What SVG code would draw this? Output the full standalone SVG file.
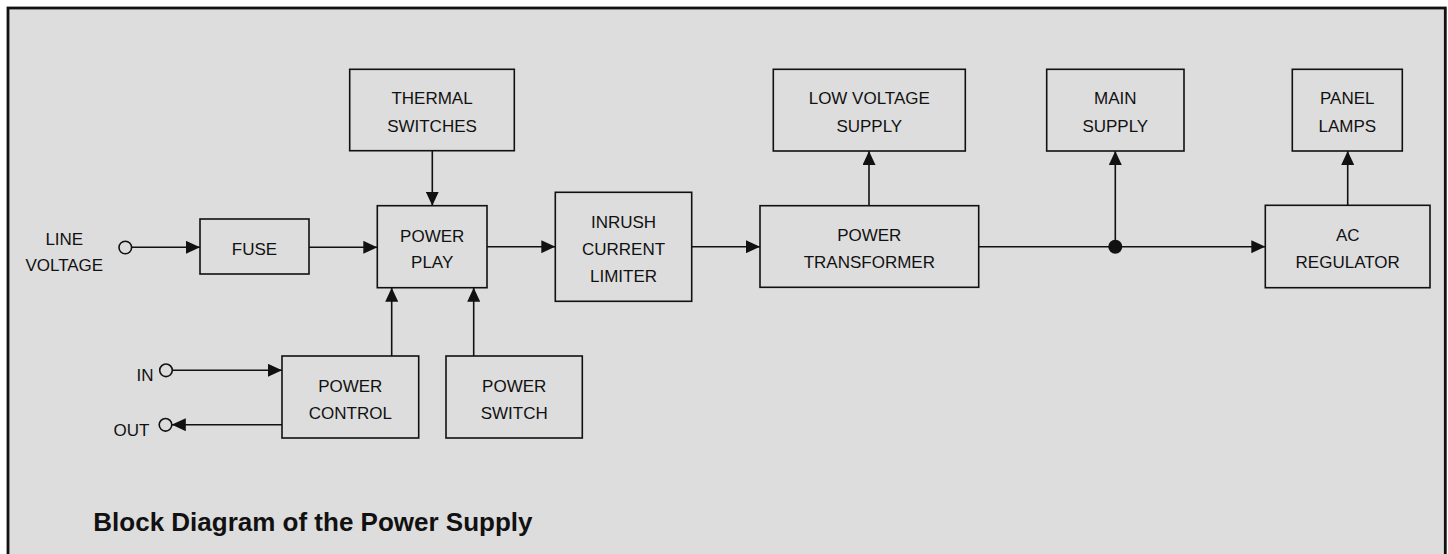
<svg xmlns="http://www.w3.org/2000/svg" width="1448" height="554" viewBox="0 0 1448 554">
  <defs>
    <style>
      .box { fill: none; stroke: #111; stroke-width: 1.6; }
      .wire { fill: none; stroke: #111; stroke-width: 1.6; }
      .term { fill: #dddddd; stroke: #111; stroke-width: 1.6; }
      .lbl { font-family: "Liberation Sans", Arial, Helvetica, sans-serif; font-size: 17px; fill: #111; text-anchor: middle; }
      .side { font-family: "Liberation Sans", Arial, Helvetica, sans-serif; font-size: 17px; fill: #111; text-anchor: end; }
      .title { font-family: "Liberation Sans", Arial, Helvetica, sans-serif; font-size: 26px; font-weight: bold; fill: #111; }
    </style>
    <marker id="arr" viewBox="0 0 14 13" refX="14" refY="6.5" markerWidth="14" markerHeight="13" markerUnits="userSpaceOnUse" orient="auto">
      <path d="M0,0 L14,6.5 L0,13 Z" fill="#111"/>
    </marker>
  </defs>

  <rect x="0" y="0" width="1448" height="554" fill="#ffffff"/>
  <rect id="frame" x="8" y="8" width="1437.3" height="560" fill="#dddddd" stroke="#111" stroke-width="2.8"/>

  <g id="connectors">
    <line class="wire" x1="131.5" y1="247.3" x2="200" y2="247.3" marker-end="url(#arr)"/>
    <line class="wire" x1="309" y1="247.3" x2="377.3" y2="247.3" marker-end="url(#arr)"/>
    <line class="wire" x1="432.3" y1="150.7" x2="432.3" y2="205.7" marker-end="url(#arr)"/>
    <line class="wire" x1="487" y1="246.7" x2="555.3" y2="246.7" marker-end="url(#arr)"/>
    <line class="wire" x1="691.7" y1="246.7" x2="760" y2="246.7" marker-end="url(#arr)"/>
    <line class="wire" x1="869" y1="205.7" x2="869" y2="151" marker-end="url(#arr)"/>
    <line class="wire" x1="978.7" y1="246.7" x2="1265.3" y2="246.7" marker-end="url(#arr)"/>
    <line class="wire" x1="1115.3" y1="246.7" x2="1115.3" y2="151" marker-end="url(#arr)"/>
    <circle cx="1115.3" cy="246.7" r="7" fill="#111"/>
    <line class="wire" x1="1347.7" y1="205.3" x2="1347.7" y2="151" marker-end="url(#arr)"/>
    <line class="wire" x1="391.7" y1="356" x2="391.7" y2="287.7" marker-end="url(#arr)"/>
    <line class="wire" x1="473.7" y1="356" x2="473.7" y2="287.7" marker-end="url(#arr)"/>
    <line class="wire" x1="172.5" y1="370.3" x2="282" y2="370.3" marker-end="url(#arr)"/>
    <line class="wire" x1="282" y1="424.7" x2="171.8" y2="424.7" marker-end="url(#arr)"/>
  </g>

  <g id="line-voltage">
    <circle class="term" cx="125.3" cy="247.5" r="6.3"/>
    <text class="lbl" x="64.3" y="245.3">LINE</text>
    <text class="lbl" x="64.3" y="270.7">VOLTAGE</text>
  </g>

  <g id="in-terminal">
    <circle class="term" cx="166" cy="370.3" r="6.3"/>
    <text class="side" x="153.5" y="381">IN</text>
  </g>

  <g id="out-terminal">
    <circle class="term" cx="165.5" cy="424.8" r="6.3"/>
    <text class="side" x="149.3" y="436">OUT</text>
  </g>

  <g id="fuse">
    <rect class="box" x="200" y="219" width="109" height="55"/>
    <text class="lbl" x="254.5" y="255">FUSE</text>
  </g>

  <g id="thermal-switches">
    <rect class="box" x="349.7" y="69.3" width="164.6" height="81.4"/>
    <text class="lbl" x="432" y="104.3">THERMAL</text>
    <text class="lbl" x="432" y="131.7">SWITCHES</text>
  </g>

  <g id="power-play">
    <rect class="box" x="377.3" y="205.7" width="109.7" height="82"/>
    <text class="lbl" x="432.2" y="241.5">POWER</text>
    <text class="lbl" x="432.2" y="268.2">PLAY</text>
  </g>

  <g id="inrush-current-limiter">
    <rect class="box" x="555.3" y="192.3" width="136.4" height="109"/>
    <text class="lbl" x="623.5" y="227.7">INRUSH</text>
    <text class="lbl" x="623.5" y="255">CURRENT</text>
    <text class="lbl" x="623.5" y="282.3">LIMITER</text>
  </g>

  <g id="power-transformer">
    <rect class="box" x="760" y="205.7" width="218.7" height="81.6"/>
    <text class="lbl" x="869.3" y="241.2">POWER</text>
    <text class="lbl" x="869.3" y="268.3">TRANSFORMER</text>
  </g>

  <g id="low-voltage-supply">
    <rect class="box" x="773.3" y="69.3" width="192" height="81.7"/>
    <text class="lbl" x="869.3" y="104.3">LOW VOLTAGE</text>
    <text class="lbl" x="869.3" y="131.7">SUPPLY</text>
  </g>

  <g id="main-supply">
    <rect class="box" x="1046.7" y="69.3" width="137.3" height="81.7"/>
    <text class="lbl" x="1115.3" y="104.3">MAIN</text>
    <text class="lbl" x="1115.3" y="131.7">SUPPLY</text>
  </g>

  <g id="panel-lamps">
    <rect class="box" x="1292.3" y="69.3" width="110" height="81.7"/>
    <text class="lbl" x="1347.3" y="104.3">PANEL</text>
    <text class="lbl" x="1347.3" y="131.7">LAMPS</text>
  </g>

  <g id="ac-regulator">
    <rect class="box" x="1265.3" y="205.3" width="164.7" height="82.4"/>
    <text class="lbl" x="1347.7" y="241.2">AC</text>
    <text class="lbl" x="1347.7" y="268.3">REGULATOR</text>
  </g>

  <g id="power-control">
    <rect class="box" x="282" y="356" width="136.7" height="82"/>
    <text class="lbl" x="350.3" y="391.5">POWER</text>
    <text class="lbl" x="350.3" y="418.5">CONTROL</text>
  </g>

  <g id="power-switch">
    <rect class="box" x="446" y="356" width="136.3" height="82"/>
    <text class="lbl" x="514.2" y="391.5">POWER</text>
    <text class="lbl" x="514.2" y="418.5">SWITCH</text>
  </g>

  <text class="title" x="93.3" y="530.7">Block Diagram of the Power Supply</text>
</svg>
